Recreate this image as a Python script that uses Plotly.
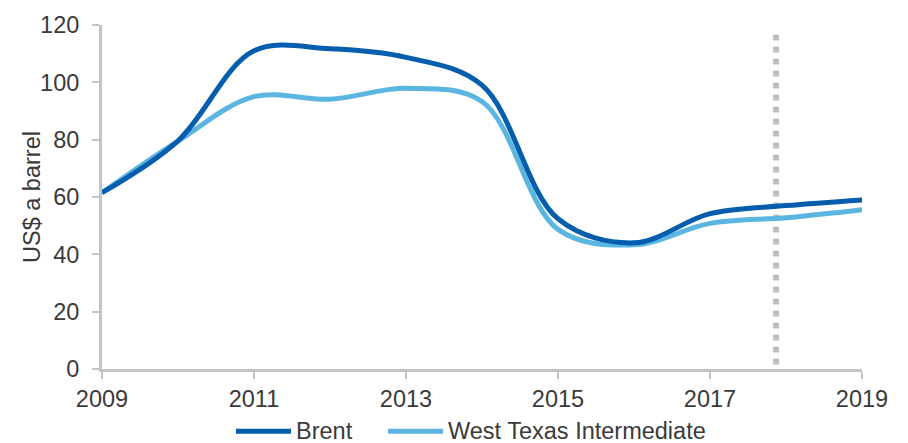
import plotly.graph_objects as go

years = [2009, 2010, 2011, 2012, 2013, 2014, 2015, 2016, 2017, 2018, 2019]
brent = [61.5, 79.6, 111.0, 111.7, 108.7, 99.0, 52.4, 44.0, 54.2, 57.0, 59.0]
wti = [61.5, 79.5, 95.0, 94.1, 97.9, 93.3, 48.7, 43.3, 50.8, 52.8, 55.6]
forecast_x = [2017.87, 2017.87]
forecast_y = [116.7, 0]
x_ticks = [2009, 2011, 2013, 2015, 2017, 2019]
y_ticks = [0, 20, 40, 60, 80, 100, 120]
y_title = "US$ a barrel"

BRENT_C = "#055DAD"
WTI_C = "#5AB5E1"
GRID_C = "#C2C4C6"
TXT_C = "#3A3A3A"
FONT = "Liberation Sans, Arial, sans-serif"
FS = 23.5

fig = go.Figure()
fig.add_trace(go.Scatter(x=forecast_x, y=forecast_y, mode="lines",
                         line=dict(color="#BDBFC1", width=6, dash="6px,6px"),
                         showlegend=False, hoverinfo="skip"))
fig.add_trace(go.Scatter(x=years, y=wti, mode="lines", name="West Texas Intermediate",
                         line=dict(color=WTI_C, width=5, shape="spline", smoothing=1.0),
                         showlegend=False))
fig.add_trace(go.Scatter(x=years, y=brent, mode="lines", name="Brent",
                         line=dict(color=BRENT_C, width=5, shape="spline", smoothing=1.0),
                         showlegend=False))

# custom legend (line samples + labels)
legend_items = [("Brent", BRENT_C, 236, 291), ("West Texas Intermediate", WTI_C, 388, 443)]
for name, col, x0, x1 in legend_items:
    fig.add_shape(type="line", xref="paper", yref="paper",
                  x0=(x0 - 102) / 760, x1=(x1 - 102) / 760,
                  y0=-(432 - 369) / 348, y1=-(432 - 369) / 348,
                  line=dict(color=col, width=5))
    fig.add_annotation(text=name, xref="paper", yref="paper",
                       x=(x1 + 3 - 102) / 760, y=-(432 - 369) / 348,
                       xanchor="left", yanchor="middle", showarrow=False,
                       font=dict(family=FONT, size=FS, color=TXT_C))

# y-axis title
fig.add_annotation(text=y_title, xref="paper", yref="paper",
                   x=(32 - 102) / 760, y=0.5, textangle=-90,
                   xanchor="center", yanchor="middle", showarrow=False,
                   font=dict(family=FONT, size=FS, color=TXT_C))

fig.update_layout(
    width=908, height=443,
    margin=dict(l=102, r=46, t=21, b=74),
    paper_bgcolor="white", plot_bgcolor="white",
    font=dict(family=FONT, size=FS, color=TXT_C),
    xaxis=dict(range=[2009, 2019], tickvals=x_ticks, ticktext=[str(v) for v in x_ticks],
               showgrid=False, zeroline=False, showline=True, linecolor=GRID_C, linewidth=3,
               ticks="outside", ticklen=7, tickwidth=2, tickcolor=GRID_C,
               tickfont=dict(size=FS, color=TXT_C)),
    yaxis=dict(range=[0, 120], tickvals=y_ticks,
               showgrid=False, zeroline=False, showline=True, linecolor=GRID_C, linewidth=3,
               ticks="outside", ticklen=7, tickwidth=2, tickcolor=GRID_C,
               ticklabelstandoff=8,
               tickfont=dict(size=FS, color=TXT_C)),
    showlegend=False,
)

fig.write_html("out.html")
